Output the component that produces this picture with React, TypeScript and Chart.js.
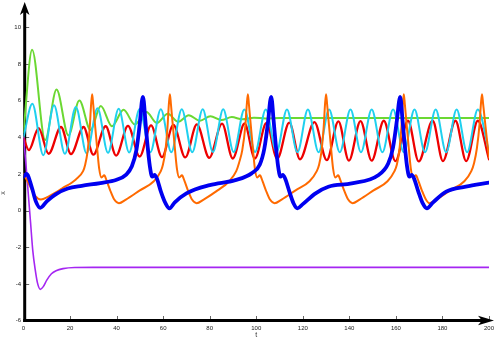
import React, { useEffect, useRef } from 'react';
import { Chart, registerables } from 'chart.js';

Chart.register(...registerables);

// ---- data ----
const xTicks = [0, 20, 40, 60, 80, 100, 120, 140, 160, 180, 200];
const yTicks = [-6, -4, -2, 0, 2, 4, 6, 8, 10];

const greenT = [0, 3.7, 9.3, 14.2, 19.3, 24.0, 28.8, 33.2, 38.0, 43.0, 47.8, 52.8, 57.3, 62.0, 66.5, 71.0, 75.8, 80.3, 85.0, 89.5, 94.0, 99.0, 104, 110, 200];
const greenX = [4.3, 8.77, 3.85, 6.6, 4.1, 6.0, 4.4, 5.7, 4.6, 5.5, 4.7, 5.38, 4.78, 5.28, 4.84, 5.2, 4.9, 5.15, 4.94, 5.1, 4.98, 5.07, 5.02, 5.05, 5.05];

const cyanT = [0, 3.8, 8.5, 13.1, 17.8, 22.5, 27.1, 31.8, 36.3, 40.9, 45.4, 49.9, 54.5, 59.0, 63.5, 68.0, 72.5, 77.0, 81.4, 85.8, 90.3, 94.9, 99.5, 104.1, 108.7, 113.2, 117.7, 122.2, 126.8, 131.3, 135.9, 140.5, 145.0, 149.6, 154.2, 158.8, 163.4, 168.0, 172.5, 177.1, 181.6, 186.1, 190.6, 195.2, 200];
const cyanX = [4.0, 5.83, 3.02, 5.74, 3.1, 5.65, 3.12, 5.58, 3.15, 5.55, 3.17, 5.54, 3.18, 5.53, 3.18, 5.53, 3.18, 5.53, 3.19, 5.53, 3.19, 5.52, 3.2, 5.52, 3.19, 5.52, 3.18, 5.52, 3.18, 5.52, 3.18, 5.52, 3.18, 5.52, 3.18, 5.52, 3.18, 5.52, 3.18, 5.52, 3.18, 5.52, 3.18, 5.52, 3.2];

const redT = [0, 2.3, 6.5, 10.8, 16.1, 20.4, 25.8, 30.0, 35.3, 39.8, 44.9, 49.9, 54.8, 59.5, 64.4, 69.5, 74.5, 79.8, 85.3, 89.9, 95.0, 99.4, 104.4, 109.0, 114.2, 118.8, 125.0, 130.3, 135.3, 139.8, 144.8, 149.6, 154.8, 159.8, 165.2, 169.8, 175.8, 180.2, 185.6, 190.2, 195.2, 200];
const redX = [4.0, 3.3, 4.5, 3.1, 4.56, 3.08, 4.56, 3.05, 4.6, 3.0, 4.62, 2.95, 4.65, 2.92, 4.67, 2.9, 4.7, 2.88, 4.74, 2.84, 4.75, 2.84, 4.78, 2.82, 4.8, 2.8, 4.83, 2.75, 4.87, 2.72, 4.88, 2.72, 4.9, 2.7, 4.9, 2.68, 4.9, 2.7, 4.9, 2.7, 4.9, 2.8];

const orangeT = [0, 2.5, 5, 7.5, 10.5, 16.5, 22.5, 25.6, 26.5, 27.5, 28.5, 29.05, 29.5, 29.95, 30.5, 31.5, 32.5, 33.5, 34.7, 35.8, 37.2, 39.0, 41.0,
  44, 50, 56, 59, 59.9, 60.9, 61.9, 62.45, 62.9, 63.35, 63.9, 64.9, 65.9, 66.9, 68.1, 69.2, 70.6, 72.4, 74.4,
  77.4, 83.4, 88.4, 91.4, 92.6, 94.0, 95.3, 95.95, 96.4, 96.85, 97.4, 98.4, 99.4, 100.4, 101.6, 102.7, 104.1, 105.9, 107.9,
  110.9, 116.9, 122.9, 126, 127, 128, 129, 129.55, 130, 130.45, 131, 132, 133, 134, 135.2, 136.3, 137.7, 139.5, 141.4,
  144.4, 150.4, 156.4, 159.4, 160.4, 161.4, 162.4, 162.95, 163.4, 163.85, 164.4, 165.4, 166.4, 167.4, 168.6, 169.7, 171.1, 172.9, 174.4,
  177.4, 183.4, 189.4, 192.4, 193.6, 194.8, 196, 196.55, 197, 197.45, 198, 199, 200];
const orangeX = [2.0, 1.4, 0.8, 0.6, 0.75, 1.2, 1.7, 2.15, 2.5, 3.2, 4.6, 5.8, 6.35, 5.8, 5.0, 3.6, 2.3, 1.8, 1.92, 1.6, 1.12, 0.6, 0.4,
  0.6, 1.1, 1.6, 2.15, 2.5, 3.2, 4.6, 5.8, 6.35, 5.8, 5.0, 3.6, 2.3, 1.8, 1.92, 1.6, 1.12, 0.6, 0.4,
  0.6, 1.1, 1.6, 2.15, 2.6, 3.3, 4.6, 5.8, 6.35, 5.8, 5.0, 3.6, 2.3, 1.8, 1.92, 1.6, 1.12, 0.6, 0.4,
  0.6, 1.1, 1.6, 2.15, 2.5, 3.2, 4.6, 5.8, 6.35, 5.8, 5.0, 3.6, 2.3, 1.8, 1.92, 1.6, 1.12, 0.6, 0.4,
  0.6, 1.1, 1.6, 2.15, 2.5, 3.2, 4.6, 5.8, 6.35, 5.8, 5.0, 3.6, 2.3, 1.8, 1.92, 1.6, 1.12, 0.6, 0.4,
  0.6, 1.1, 1.6, 2.15, 2.6, 3.4, 4.8, 5.85, 6.35, 5.85, 5.2, 4.0, 2.9];

const blueT = [0, 1.3, 3.5, 5.3, 7.2, 10, 14, 19, 25, 33, 40, 44, 46.5, 48.5, 50, 50.85, 51.3, 51.7, 52.3, 53.1, 54.3, 55.3, 56.3, 57.3, 59, 61, 62.7,
  65, 70, 80, 91, 98, 101.5, 103.5, 105.2, 105.95, 106.4, 106.8, 107.4, 108.2, 109.4, 110.4, 111.4, 112.4, 114.2, 116, 117.7,
  120, 125.5, 131, 141, 152.4, 156.7, 158.7, 160.5, 161.35, 161.8, 162.2, 162.8, 163.6, 164.8, 165.8, 166.8, 167.8, 169.6, 171.5, 173.3,
  176, 181.6, 190, 200];
const blueX = [1.85, 2.0, 1.3, 0.5, 0.15, 0.5, 0.9, 1.2, 1.35, 1.5, 1.68, 1.95, 2.4, 3.3, 4.8, 5.95, 6.2, 5.95, 5.0, 3.8, 2.4, 1.85, 1.95, 1.75, 1.05, 0.4, 0.12,
  0.45, 0.94, 1.39, 1.66, 2.03, 2.5, 3.4, 5.0, 5.95, 6.2, 5.95, 5.0, 3.84, 2.4, 1.85, 1.95, 1.75, 1.05, 0.4, 0.12,
  0.35, 0.94, 1.3, 1.48, 1.93, 2.57, 3.4, 5.0, 5.95, 6.2, 5.95, 5.0, 3.84, 2.4, 1.85, 1.95, 1.75, 1.05, 0.4, 0.12,
  0.45, 1.03, 1.3, 1.52];

const purpleT = [0, 1, 2, 3, 4, 5, 6, 7.2, 8.5, 10, 12, 14, 17, 22, 30, 200];
const purpleX = [4.0, 2.6, 1.0, -0.6, -2.2, -3.2, -3.95, -4.3, -4.15, -3.8, -3.45, -3.28, -3.17, -3.11, -3.1, -3.1];

const zip = (ts: number[], vs: number[]) => ts.map((t, i) => ({ x: t, y: vs[i] }));

const FONT = "'Liberation Sans', Arial, sans-serif";

const axesPlugin = {
  id: 'arrowAxes',
  beforeDatasetsDraw(chart: any) {
    const { ctx, chartArea, scales } = chart;
    const { left, bottom } = chartArea;
    const xs = scales.x;
    const ys = scales.y;
    const ax = left + 1.2;
    ctx.save();
    ctx.strokeStyle = '#666';
    ctx.lineWidth = 1;
    xTicks.forEach((v) => {
      const px = Math.round(xs.getPixelForValue(v)) + 0.5;
      ctx.beginPath();
      ctx.moveTo(px, bottom);
      ctx.lineTo(px, bottom - 4.5);
      ctx.stroke();
    });
    yTicks.forEach((v) => {
      const py = Math.round(ys.getPixelForValue(v)) + 0.5;
      ctx.beginPath();
      ctx.moveTo(ax, py);
      ctx.lineTo(ax + 4.5, py);
      ctx.stroke();
    });
    ctx.strokeStyle = '#000';
    ctx.lineWidth = 3;
    ctx.beginPath();
    ctx.moveTo(ax, bottom + 1.5);
    ctx.lineTo(ax, 10);
    ctx.stroke();
    ctx.beginPath();
    ctx.moveTo(ax - 1.5, bottom);
    ctx.lineTo(485, bottom);
    ctx.stroke();
    ctx.fillStyle = '#000';
    ctx.beginPath();
    ctx.moveTo(ax, 2);
    ctx.lineTo(ax + 4.8, 15);
    ctx.lineTo(ax, 11.5);
    ctx.lineTo(ax - 4.8, 15);
    ctx.closePath();
    ctx.fill();
    ctx.beginPath();
    ctx.moveTo(494, bottom);
    ctx.lineTo(478, bottom - 4.8);
    ctx.lineTo(482, bottom);
    ctx.lineTo(478, bottom + 4.8);
    ctx.closePath();
    ctx.fill();
    ctx.fillStyle = '#333';
    ctx.font = `7px ${FONT}`;
    ctx.textAlign = 'center';
    ctx.textBaseline = 'middle';
    ctx.translate(3.5, 193);
    ctx.rotate(-Math.PI / 2);
    ctx.fillText('x', 0, 0);
    ctx.restore();
  },
};

export default function App() {
  const ref = useRef<HTMLCanvasElement>(null);
  useEffect(() => {
    if (!ref.current) return;
    const common = { pointRadius: 0, fill: false, cubicInterpolationMode: 'monotone' as const, borderJoinStyle: 'round' as const, borderCapStyle: 'round' as const };
    const chart = new Chart(ref.current, {
      type: 'line',
      data: {
        datasets: [
          { ...common, label: 'x5', data: zip(blueT, blueX), borderColor: '#0000f0', borderWidth: 3.8 },
          { ...common, label: 'x4', data: zip(orangeT, orangeX), borderColor: '#ff6a00', borderWidth: 2 },
          { ...common, label: 'x6', data: zip(purpleT, purpleX), borderColor: '#a526f2', borderWidth: 1.6 },
          { ...common, label: 'x2', data: zip(cyanT, cyanX), borderColor: '#1fd0ef', borderWidth: 2 },
          { ...common, label: 'x3', data: zip(redT, redX), borderColor: '#ee0000', borderWidth: 2.3 },
          { ...common, label: 'x1', data: zip(greenT, greenX), borderColor: '#6bd832', borderWidth: 2 },
        ],
      },
      options: {
        responsive: false,
        animation: false,
        events: [],
        layout: { padding: { left: 0, right: 6.5, top: 27.3, bottom: 0 } },
        plugins: { legend: { display: false }, tooltip: { enabled: false } },
        scales: {
          x: {
            type: 'linear',
            min: 0,
            max: 200,
            afterFit: (s: any) => { s.height = 18.5; },
            grid: { display: false, drawTicks: false },
            border: { display: false },
            ticks: { stepSize: 20, padding: 4, color: '#222', font: { family: FONT, size: 6 }, maxRotation: 0, autoSkip: false },
            title: { display: true, text: 't', color: '#333', font: { family: FONT, size: 7, lineHeight: 1 }, padding: { top: 0, bottom: 0 } },
          },
          y: {
            type: 'linear',
            min: -6,
            max: 10,
            afterFit: (s: any) => { s.width = 23.5; },
            grid: { display: false, drawTicks: false },
            border: { display: false },
            ticks: { stepSize: 2, padding: 2.5, color: '#222', font: { family: FONT, size: 6 }, autoSkip: false },
          },
        },
      },
      plugins: [axesPlugin],
    });
    return () => chart.destroy();
  }, []);
  return (
    <div style={{ position: 'absolute', left: 0, top: 0, width: 498, height: 339, background: '#fff' }}>
      <canvas ref={ref} width={498} height={339} style={{ display: 'block' }} />
    </div>
  );
}
